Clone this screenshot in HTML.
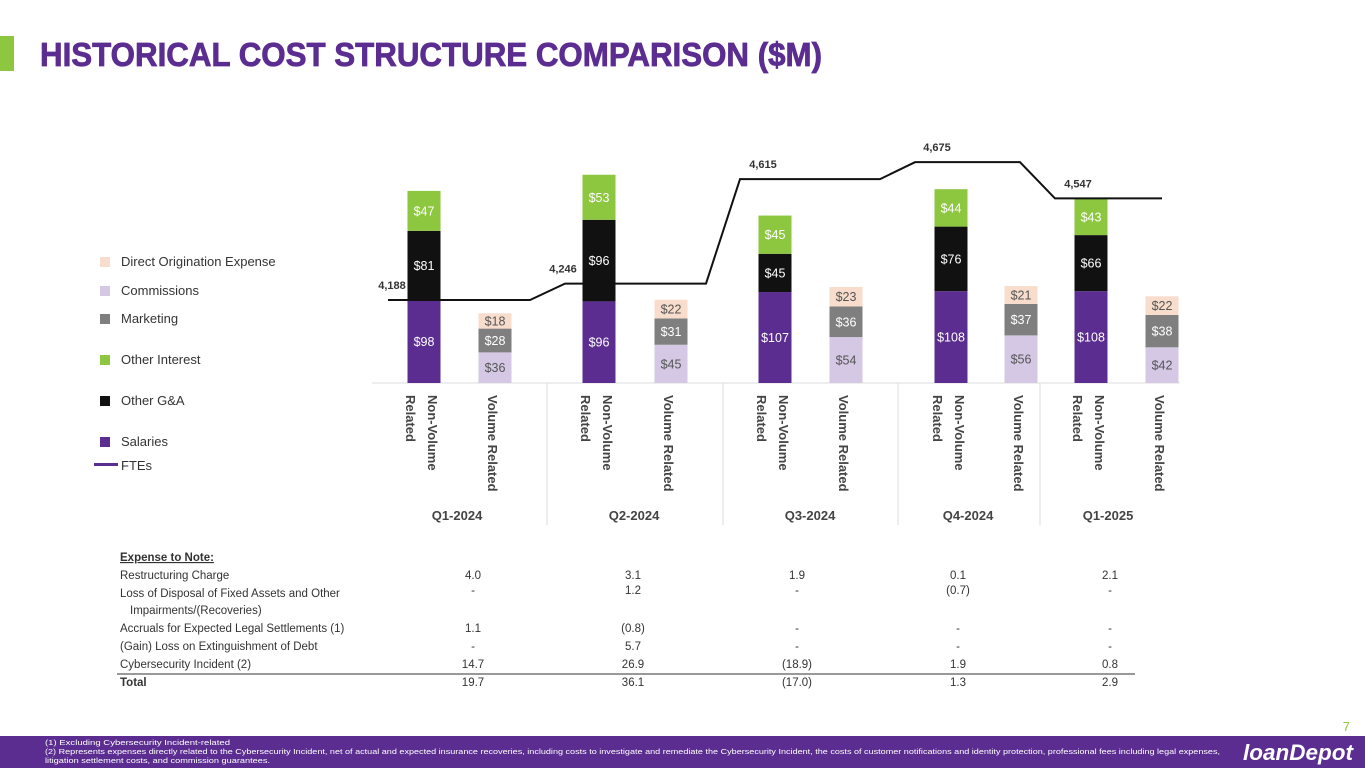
<!DOCTYPE html>
<html><head><meta charset="utf-8"><style>
body{margin:0;width:1365px;height:768px;overflow:hidden;background:#fff;font-family:"Liberation Sans",sans-serif;}
svg{display:block}
</style></head><body>
<svg id="s" width="1365" height="768" xmlns="http://www.w3.org/2000/svg" font-family="Liberation Sans, sans-serif">
<rect x="0" y="36" width="14" height="35" fill="#8dc63f"/>
<text x="40" y="66" font-size="33" font-weight="bold" fill="#5b2d91" textLength="782" lengthAdjust="spacingAndGlyphs" stroke="#5b2d91" stroke-width="0.8">HISTORICAL COST STRUCTURE COMPARISON ($M)</text>
<g font-size="13" fill="#333">
<rect x="100" y="257" width="10" height="10" fill="#f8dccc"/><text x="121" y="266">Direct Origination Expense</text>
<rect x="100" y="286" width="10" height="10" fill="#d4c8e4"/><text x="121" y="295">Commissions</text>
<rect x="100" y="314" width="10" height="10" fill="#7f7f7f"/><text x="121" y="323">Marketing</text>
<rect x="100" y="355" width="10" height="10" fill="#8dc63f"/><text x="121" y="364">Other Interest</text>
<rect x="100" y="396" width="10" height="10" fill="#111"/><text x="121" y="405">Other G&amp;A</text>
<rect x="100" y="437" width="10" height="10" fill="#5b2d91"/><text x="121" y="446">Salaries</text>
<rect x="94" y="463" width="24" height="3" fill="#5b2d91"/><text x="121" y="470">FTEs</text>
</g>
<g id="chart"></g>
<g font-size="11.5" fill="#333">
<text x="120" y="561" font-weight="bold" text-decoration="underline">Expense to Note:</text>
<text x="120" y="579">Restructuring Charge</text>
<text x="120" y="597">Loss of Disposal of Fixed Assets and  Other</text>
<text x="130" y="614">Impairments/(Recoveries)</text>
<text x="120" y="632">Accruals for Expected Legal Settlements (1)</text>
<text x="120" y="650">(Gain) Loss on Extinguishment of Debt</text>
<text x="120" y="668">Cybersecurity Incident (2)</text>
<line x1="117" y1="674" x2="1135" y2="674" stroke="#333" stroke-width="1"/>
<text x="120" y="686" font-weight="bold">Total</text>
<g id="tvals" text-anchor="middle"></g>
</g>
<text x="1350" y="731" font-size="13" fill="#8dc63f" text-anchor="end">7</text>
<rect x="0" y="736" width="1365" height="32" fill="#5b2d91"/>
<g font-size="7.5" fill="#fff">
<text x="45" y="745" textLength="185" lengthAdjust="spacingAndGlyphs">(1)    Excluding Cybersecurity Incident-related</text>
<text x="45" y="754" textLength="1175" lengthAdjust="spacingAndGlyphs">(2)  Represents expenses directly related to the Cybersecurity Incident, net of actual and expected insurance recoveries, including costs to investigate and remediate the Cybersecurity Incident, the costs of customer notifications and identity protection, professional fees including legal expenses,</text>
<text x="45" y="763" textLength="225" lengthAdjust="spacingAndGlyphs">litigation settlement costs, and commission guarantees.</text>
</g>
<text x="1243" y="760" font-size="22" font-weight="bold" font-style="italic" fill="#fff" textLength="110" lengthAdjust="spacingAndGlyphs">loanDepot</text>
</svg>
<script>
const quarters=["Q1-2024","Q2-2024","Q3-2024","Q4-2024","Q1-2025"];
const salaries=[98,96,107,108,108];
const otherGA=[81,96,45,76,66];
const otherInterest=[47,53,45,44,43];
const commissions=[36,45,54,56,42];
const marketing=[28,31,36,37,38];
const directOrig=[18,22,23,21,22];
const ftes=[4188,4246,4615,4675,4547];
const tableVals=[["4.0","3.1","1.9","0.1","2.1"],["-","1.2","-","(0.7)","-"],["1.1","(0.8)","-","-","-"],["-","5.7","-","-","-"],["14.7","26.9","(18.9)","1.9","0.8"],["19.7","36.1","(17.0)","1.3","2.9"]];
const NS="http://www.w3.org/2000/svg";
const g=document.getElementById('chart');
const base=383,k=0.85;
const y=v=>v*k;
const fy=f=>300-(f-4188)*0.283;
const nvX=[424,599,775,951,1091],vX=[495,671,846,1021,1162],qX=[457,634,810,968,1108],sepX=[547,723,898,1040];
const bw=33;
function el(t,a,p){const e=document.createElementNS(NS,t);for(const n in a)e.setAttribute(n,a[n]);(p||g).appendChild(e);return e;}
const ax=el('line',{x1:372,y1:base,x2:1180,y2:base,stroke:'#ddd'});


sepX.forEach(x=>{const l=el('line',{x1:x,y1:base,x2:x,y2:525,stroke:'#ddd'});

});
function stack(cx,vals,cols,tcols,name){let b=base;vals.forEach((v,i)=>{const h=y(v);
const r=el('rect',{x:cx-bw/2,y:b-h,width:bw,height:h,fill:cols[i]});


const t=el('text',{x:cx,y:b-h/2+4.5,'text-anchor':'middle','font-size':12.5,fill:tcols[i]});t.textContent='$'+v;


b-=h;});}
quarters.forEach((q,i)=>{
stack(nvX[i],[salaries[i],otherGA[i],otherInterest[i]],['#5b2d91','#111','#8dc63f'],['#fff','#fff','#fff'],'non-volume');
stack(vX[i],[commissions[i],marketing[i],directOrig[i]],['#d4c8e4','#7f7f7f','#f8dccc'],['#555','#fff','#555'],'volume');
[[nvX[i],[['Related',18],['Non-Volume',-4]]],[vX[i],[['Volume Related',7]]]].forEach(([x,lines])=>{
lines.forEach(([s,off])=>{
const t=el('text',{transform:`translate(${x},395) rotate(90)`,x:0,y:off,'font-size':13,'font-weight':'bold',fill:'#444'});
t.textContent=s;

});});
const ql=el('text',{x:qX[i],y:520,'text-anchor':'middle','font-size':13,'font-weight':'bold',fill:'#444'});ql.textContent=q;


});
const segs=[[388,530],[565,706],[740,880],[915,1020],[1055,1162]];
let d='';segs.forEach((s,i)=>{d+=(i?'L':'M')+s[0]+','+fy(ftes[i])+'L'+s[1]+','+fy(ftes[i]);});
const p=el('path',{d:d,fill:'none',stroke:'#111','stroke-width':2});


const lblX=[392,563,763,937,1078];
ftes.forEach((f,i)=>{const t=el('text',{x:lblX[i],y:fy(f)-11,'text-anchor':'middle','font-size':11,'font-weight':'bold',fill:'#333'});t.textContent=f.toLocaleString('en-US');

});
const tv=document.getElementById('tvals');const rowY=[579,597,632,650,668,686];const colX=[473,633,797,958,1110];
tableVals.forEach((r,ri)=>r.forEach((v,ci)=>{const t=el('text',{x:colX[ci],y:rowY[ri]-3*(ri===1?1:0)},tv);t.textContent=v;

}));
</script>
</body></html>
